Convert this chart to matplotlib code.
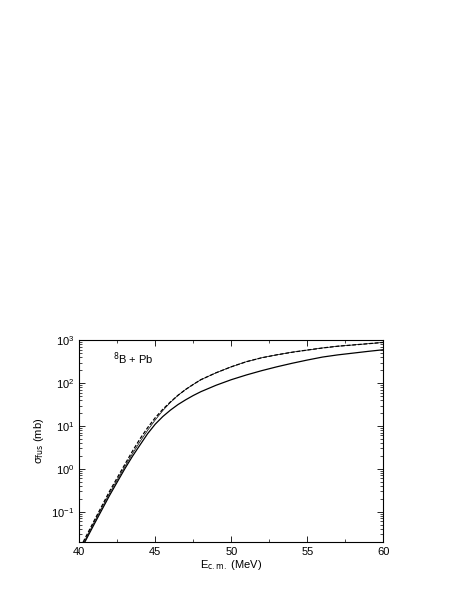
import numpy as np
import matplotlib.pyplot as plt
from matplotlib.ticker import LogLocator, MultipleLocator, NullFormatter

plt.rcParams['font.family'] = ['Liberation Sans', 'DejaVu Sans']

# energies (MeV) and fusion cross sections (mb)
e_solid = [40.37, 41, 42, 43, 43.5, 44, 44.5, 45, 45.5, 46, 46.5, 47, 47.5, 48, 49, 50,
           51, 52, 53, 54, 55, 56, 57, 58, 59, 60]
sig_solid = [0.0195, 0.052, 0.24, 1.0, 1.95, 3.6, 6.6, 11.0, 16.6, 23.4, 31.6, 40.7, 51.3, 63, 89, 120,
             155, 195, 240, 290, 345, 405, 455, 500, 550, 600]

e_dash = [40.26, 41, 42, 43, 43.5, 44, 44.5, 45, 45.5, 46, 46.5, 47, 47.5, 48, 49, 50,
          51, 52, 53, 54, 55, 56, 57, 58, 59, 60]
sig_dash = [0.0195, 0.063, 0.30, 1.26, 2.57, 5.0, 9.1, 15.5, 24.5, 36.3, 52, 71, 93, 120, 174, 240,
            316, 390, 457, 525, 590, 660, 725, 775, 830, 890]

# thin solid curve lying between the two at low energy, merging with the dashed one
e_mid = [40.32, 41, 42, 43, 43.5, 44, 44.5, 45, 45.5, 46, 46.5, 47, 47.5, 48, 49, 50,
         51, 52, 53, 54, 55, 56, 57, 58, 59, 60]
sig_mid = [0.0195, 0.058, 0.27, 1.12, 2.24, 4.3, 7.9, 13.8, 22.9, 35.5, 52, 71, 93, 120, 174, 240,
           316, 390, 457, 525, 590, 660, 725, 775, 830, 890]

fig = plt.figure(figsize=(4.63, 5.99), dpi=100)
ax = fig.add_axes([0.171, 0.095, 0.657, 0.337])

ax.plot(e_mid, sig_mid, color='black', lw=0.5)
ax.plot(e_solid, sig_solid, color='black', lw=0.9)
ax.plot(e_dash, sig_dash, color='black', lw=0.9, dashes=(3, 1.5))

ax.set_yscale('log')
ax.set_xlim(40, 60)
ax.set_ylim(0.0195, 1000)
ax.xaxis.set_major_locator(MultipleLocator(5))
ax.xaxis.set_minor_locator(MultipleLocator(2.5))
ax.yaxis.set_major_locator(LogLocator(base=10, numticks=10))
ax.yaxis.set_minor_locator(LogLocator(base=10, subs=np.arange(2, 10), numticks=10))
ax.yaxis.set_minor_formatter(NullFormatter())
ax.tick_params(which='both', direction='in', top=True, right=True, labelsize=8)
ax.tick_params(which='major', length=4, width=0.6)
ax.tick_params(which='minor', length=2, width=0.5)
for s in ax.spines.values():
    s.set_linewidth(0.8)

ax.set_xlabel(r'E$_{\rm c.m.}$ (MeV)', fontsize=8, labelpad=1)
ax.set_ylabel('\u03c3$_{\\rm fus}$ (mb)', fontsize=8, labelpad=4)
ax.text(0.11, 0.885, r'$^{8}$B + Pb', transform=ax.transAxes, fontsize=8)

fig.savefig('out.png', dpi=100)
